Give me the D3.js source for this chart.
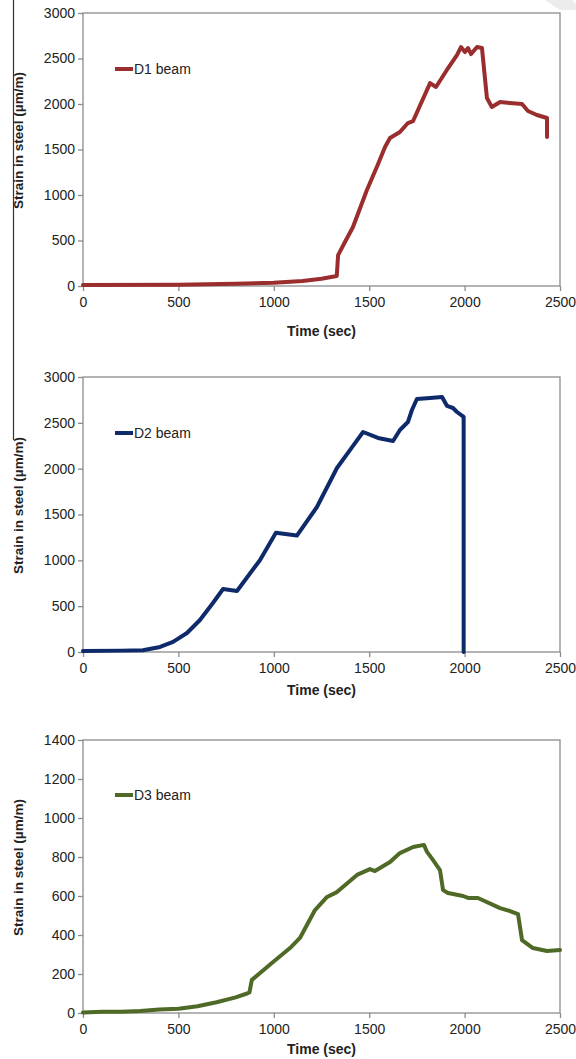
<!DOCTYPE html>
<html>
<head>
<meta charset="utf-8">
<script src="https://cdn.jsdelivr.net/npm/d3@7/dist/d3.min.js"></script>
<style>
  html, body { margin: 0; padding: 0; background: #fff; }
  svg { display: block; }
  text { font-family: "Liberation Sans", Arial, sans-serif; fill: #222; }
</style>
</head>
<body>
<svg id="fig" width="576" height="1059"></svg>
<script>
// Strain histories of the three beams: [time (sec), strain (µm/m)]
const d1Strain = [
  [0,10],[500,15],[800,25],[1000,35],[1150,55],[1250,80],[1330,110],[1337,340],
  [1373,483],[1415,648],[1488,1055],[1540,1308],[1583,1528],[1609,1626],[1661,1692],
  [1703,1791],[1730,1813],[1819,2230],[1850,2187],[1907,2374],[1960,2538],[1981,2626],
  [2002,2571],[2018,2615],[2034,2549],[2065,2626],[2091,2615],[2117,2066],[2143,1967],
  [2186,2022],[2238,2011],[2301,2000],[2332,1923],[2379,1879],[2432,1846],[2432,1637]
];
const d2Strain = [
  [0,10],[200,15],[314,20],[404,55],[472,110],[545,207],[613,349],[681,535],[734,687],
  [807,665],[928,1004],[1011,1300],[1050,1290],[1121,1270],[1226,1582],[1331,2007],
  [1399,2203],[1468,2400],[1546,2335],[1625,2302],[1661,2422],[1703,2509],[1724,2640],
  [1750,2760],[1819,2771],[1882,2782],[1908,2684],[1939,2662],[1960,2618],[1995,2564],
  [1995,0]
];
const d3Strain = [
  [0,3],[100,6],[200,7],[300,10],[400,18],[500,22],[600,35],[700,55],[800,80],[860,100],
  [872,105],[885,170],[990,256],[1085,333],[1137,385],[1216,528],[1279,595],[1331,620],
  [1436,708],[1504,738],[1530,728],[1609,774],[1661,820],[1730,851],[1787,862],[1803,826],
  [1834,785],[1871,733],[1887,631],[1913,615],[1992,600],[2018,590],[2070,590],[2186,538],
  [2238,523],[2280,507],[2301,374],[2358,333],[2432,318],[2500,323]
];

const timeTicks = [0, 500, 1000, 1500, 2000, 2500];
const strainTicksD1D2 = [0, 500, 1000, 1500, 2000, 2500, 3000];
const strainTicksD3 = [0, 200, 400, 600, 800, 1000, 1200, 1400];

const seriesNames = ["D1 beam", "D2 beam", "D3 beam"];
const seriesColors = ["#9a2e2e", "#0f2a6a", "#4f6a26"];

const svg = d3.select("#fig");

// Margin rule of the scanned page
svg.append("line")
  .attr("x1", 13.5).attr("x2", 13.5).attr("y1", 0).attr("y2", 440)
  .attr("stroke", "#333").attr("stroke-width", 1.2);
// faint fold in the top-right corner
svg.append("polygon")
  .attr("points", "545,0 572,0 576,4 576,10 560,10")
  .attr("fill", "#ececec");

const panels = [
  { data: d1Strain, yMax: 3000, yTicks: strainTicksD1D2, top: 13, bottom: 286, legendY: 69, titleGap: 50 },
  { data: d2Strain, yMax: 3000, yTicks: strainTicksD1D2, top: 377, bottom: 652, legendY: 433, titleGap: 43 },
  { data: d3Strain, yMax: 1400, yTicks: strainTicksD3, top: 740, bottom: 1013, legendY: 795, titleGap: 41 }
];

const left = 83, right = 560;

panels.forEach((p, i) => {
  const g = svg.append("g");
  const x = d3.scaleLinear().domain([0, 2500]).range([left, right]);
  const y = d3.scaleLinear().domain([0, p.yMax]).range([p.bottom, p.top]);

  // plot frame
  g.append("rect")
    .attr("x", left).attr("y", p.top)
    .attr("width", right - left).attr("height", p.bottom - p.top)
    .attr("fill", "none").attr("stroke", "#8c8c8c").attr("stroke-width", 1.3);

  // y axis
  const yAxis = d3.axisLeft(y).tickValues(p.yTicks).tickSize(5).tickPadding(3)
    .tickFormat(d3.format("d"));
  const ya = g.append("g").attr("transform", `translate(${left},0)`).call(yAxis);
  ya.select(".domain").remove();
  ya.selectAll(".tick line").attr("stroke", "#8c8c8c").attr("stroke-width", 1.3);
  ya.selectAll(".tick text").style("font-size", "14px").attr("fill", "#222");

  // x axis
  const xAxis = d3.axisBottom(x).tickValues(timeTicks).tickSize(5).tickPadding(6)
    .tickFormat(d3.format("d"));
  const xa = g.append("g").attr("transform", `translate(0,${p.bottom})`).call(xAxis);
  xa.select(".domain").remove();
  xa.selectAll(".tick line").attr("stroke", "#8c8c8c").attr("stroke-width", 1.3);
  xa.selectAll(".tick text").style("font-size", "14px").attr("fill", "#222");

  // axis titles
  g.append("text")
    .attr("x", (left + right) / 2)
    .attr("y", p.bottom + p.titleGap)
    .attr("text-anchor", "middle")
    .style("font-size", "14px").style("font-weight", "bold")
    .text("Time (sec)");
  const cy = (p.top + p.bottom) / 2 - 9;
  g.append("text")
    .attr("transform", `translate(23,${cy}) rotate(-90)`)
    .attr("text-anchor", "middle")
    .style("font-size", "13.5px").style("font-weight", "bold")
    .text("Strain in steel (\u00b5m/m)");

  // strain curve
  const line = d3.line().x(d => x(d[0])).y(d => y(d[1]));
  g.append("path")
    .datum(p.data)
    .attr("d", line)
    .attr("fill", "none")
    .attr("stroke", seriesColors[i])
    .attr("stroke-width", 4)
    .attr("stroke-linejoin", "round")
    .attr("stroke-linecap", "round");

  // legend
  g.append("line")
    .attr("x1", 115).attr("x2", 133)
    .attr("y1", p.legendY).attr("y2", p.legendY)
    .attr("stroke", seriesColors[i]).attr("stroke-width", 4);
  g.append("text")
    .attr("x", 134).attr("y", p.legendY + 5)
    .style("font-size", "14px")
    .text(seriesNames[i]);
});
</script>
</body>
</html>
